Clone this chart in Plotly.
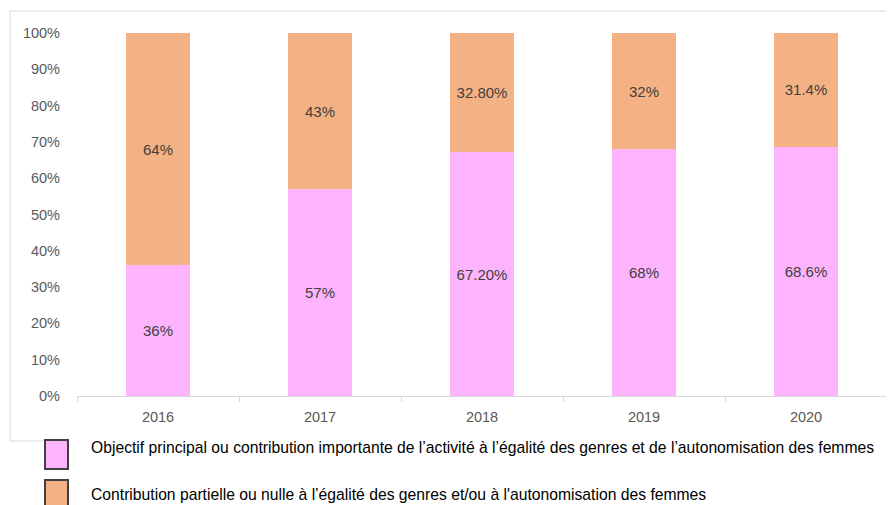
import plotly.graph_objects as go

years = ["2016", "2017", "2018", "2019", "2020"]
principal = [36, 57, 67.2, 68, 68.6]
partielle = [64, 43, 32.8, 32, 31.4]
principal_labels = ["36%", "57%", "67.20%", "68%", "68.6%"]
partielle_labels = ["64%", "43%", "32.80%", "32%", "31.4%"]
series_names = [
    "Objectif principal ou contribution importante de l’activité à l’égalité des genres et de l’autonomisation des femmes",
    "Contribution partielle ou nulle à l’égalité des genres et/ou à l'autonomisation des femmes",
]
y_ticks = [0, 10, 20, 30, 40, 50, 60, 70, 80, 90, 100]
y_tick_labels = ["0%", "10%", "20%", "30%", "40%", "50%", "60%", "70%", "80%", "90%", "100%"]

PINK = "#FDB4FD"
ORANGE = "#F4B183"
FONT = "Liberation Sans"
OFF = 8  # default page body margin
PW, PH = 894, 505
W, H = PW - OFF, PH - OFF
# plot area in page pixels: x 77..887, y 33..396
L, R, T, B = 77 - OFF, PW - 887, 33 - OFF, PH - 396

def px2x(px):
    return (px - OFF - L) / (W - L - R)

def px2y(py):
    return (H - B - (py - OFF)) / (H - T - B)

fig = go.Figure()
fig.add_trace(go.Bar(x=years, y=principal, name=series_names[0], marker=dict(color=PINK, line=dict(width=0)),
                     text=principal_labels, textposition="inside", insidetextanchor="middle",
                     textfont=dict(size=15, color="#404040", family=FONT)))
fig.add_trace(go.Bar(x=years, y=partielle, name=series_names[1], marker=dict(color=ORANGE, line=dict(width=0)),
                     text=partielle_labels, textposition="inside", insidetextanchor="middle",
                     textfont=dict(size=15, color="#404040", family=FONT)))

shapes = [
    dict(type="line", xref="paper", yref="paper", x0=px2x(10), x1=px2x(10), y0=px2y(11), y1=px2y(441),
         line=dict(color="#d9d9d9", width=1)),
    dict(type="line", xref="paper", yref="paper", x0=px2x(10), x1=px2x(900), y0=px2y(11), y1=px2y(11),
         line=dict(color="#d9d9d9", width=1)),
    dict(type="line", xref="paper", yref="paper", x0=px2x(10), x1=px2x(45), y0=px2y(441), y1=px2y(441),
         line=dict(color="#d9d9d9", width=1)),
    dict(type="rect", xref="paper", yref="paper", x0=px2x(45), x1=px2x(68), y0=px2y(440), y1=px2y(469),
         fillcolor=PINK, line=dict(color="#404040", width=2)),
    dict(type="rect", xref="paper", yref="paper", x0=px2x(45), x1=px2x(68), y0=px2y(480), y1=px2y(509),
         fillcolor=ORANGE, line=dict(color="#404040", width=2)),
]
annotations = [
    dict(xref="paper", yref="paper", x=px2x(89), y=px2y(447), xanchor="left", yanchor="middle",
         text=series_names[0], showarrow=False, font=dict(size=15.7, color="#000000", family=FONT)),
    dict(xref="paper", yref="paper", x=px2x(89), y=px2y(494), xanchor="left", yanchor="middle",
         text=series_names[1], showarrow=False, font=dict(size=15.7, color="#000000", family=FONT)),
]

fig.update_layout(
    width=W, height=H, barmode="stack", bargap=0.605, showlegend=False,
    margin=dict(l=L, r=R, t=T, b=B, pad=0),
    paper_bgcolor="white", plot_bgcolor="white",
    font=dict(family=FONT, color="#595959", size=14.5),
    shapes=shapes, annotations=annotations,
    xaxis=dict(showline=True, linecolor="#d9d9d9", linewidth=1, ticks="outside", tickson="boundaries",
               ticklen=5, tickcolor="#d9d9d9", showgrid=False, ticklabelstandoff=8,
               tickfont=dict(size=14.5, color="#595959")),
    yaxis=dict(range=[0, 100], tickmode="array", tickvals=y_ticks, ticktext=y_tick_labels,
               showgrid=False, zeroline=False, showline=False, ticks="", ticklabelstandoff=16,
               tickfont=dict(size=14.5, color="#595959")),
)
fig.write_html("out.html")
